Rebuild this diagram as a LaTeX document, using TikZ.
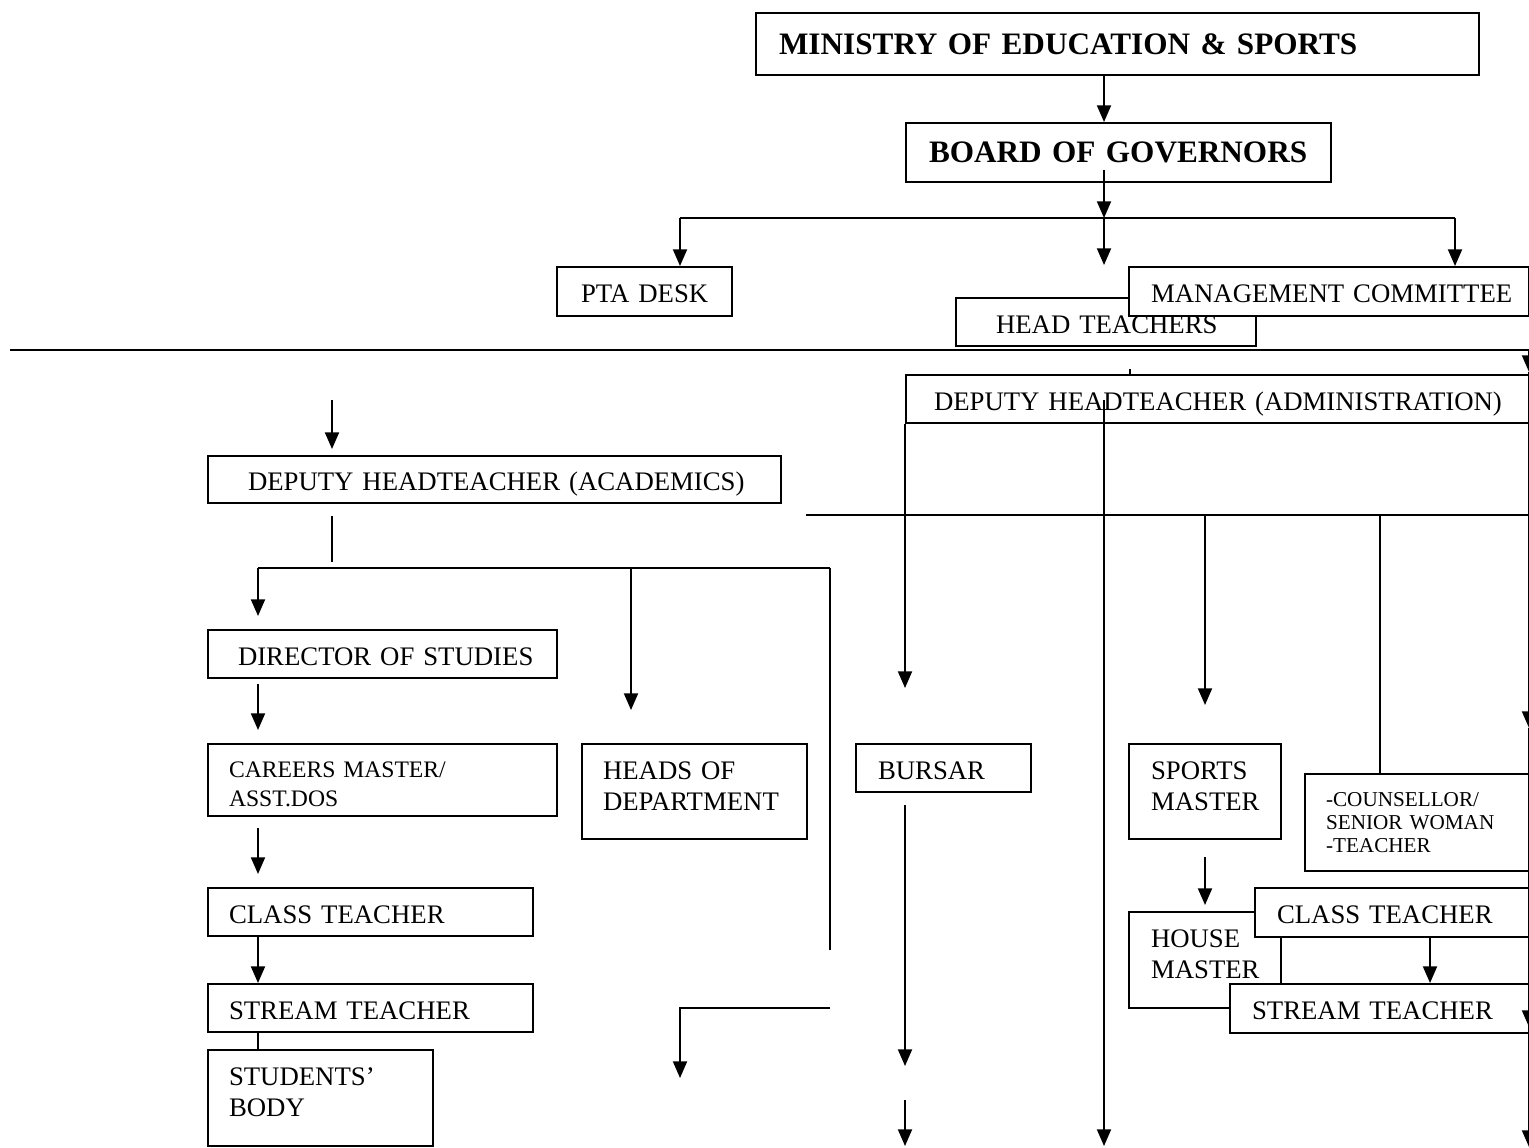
\documentclass[tikz,border=0pt]{standalone}
\usepackage{fontspec}
\setmainfont{Liberation Serif}
\usetikzlibrary{arrows.meta}
\newcommand\fN{\fontsize{12}{13.8}\selectfont}
\newcommand\fB{\fontsize{14}{16}\selectfont\bfseries}
\newcommand\fS{\fontsize{10.6}{13}\selectfont}
\newcommand\fT{\fontsize{9.5}{10.4}\selectfont}
\begin{document}
\begin{tikzpicture}[x=0.4484pt,y=-0.4484pt,
  bx/.style n args={3}{draw, fill=white, line width=0.9pt, anchor=north west,
    minimum width=#1*0.4484pt, minimum height=#2*0.4484pt,
    text width=(#1-2*#3)*0.4484pt, inner xsep=#3*0.4484pt, inner ysep=0pt,
    align=left, font=\fN},
  sl/.style={text height=10.1pt, text depth=0pt},
  dl/.style={text height=8pt, text depth=18.8pt},
  ln/.style={line width=0.85pt},
  arr/.style={line width=0.85pt, -{Triangle[length=7.5pt,width=6.3pt]}}]
\useasboundingbox (0,0) rectangle (1529,1147);
% boxes
\node[bx={723}{62}{23}, font=\fB] (min) at (755,12) {\mbox{MINISTRY OF EDUCATION \& SPORTS}};
\node[bx={425}{59}{23}, font=\fB] (brd) at (905,122) {\mbox{BOARD OF GOVERNORS}};
\node[bx={175}{49}{24}, sl] (pta) at (556,266) {\mbox{PTA DESK}};
\node[bx={300}{48}{40}, sl] (ht) at (955,297) {\mbox{HEAD TEACHERS}};
\node[bx={400}{49}{22}, sl] (mc) at (1128,266) {\mbox{MANAGEMENT COMMITTEE}};
\node[bx={623}{48}{28}, sl] (da) at (905,374) {\mbox{DEPUTY HEADTEACHER (ADMINISTRATION)}};
\node[bx={573}{47}{40}, sl] (dac) at (207,455) {\mbox{DEPUTY HEADTEACHER (ACADEMICS)}};
\node[bx={349}{48}{30}, sl] (dos) at (207,629) {\mbox{DIRECTOR OF STUDIES}};
\node[bx={349}{72}{21}, font=\fS, text height=11pt, text depth=13pt] (cm) at (207,743) {\mbox{CAREERS MASTER/}\\\mbox{ASST.DOS}};
\node[bx={225}{95}{21}, dl] (hod) at (581,743) {\mbox{HEADS OF}\\\mbox{DEPARTMENT}};
\node[bx={325}{48}{21}, sl] (ctl) at (207,887) {\mbox{CLASS TEACHER}};
\node[bx={325}{48}{21}, sl] (stl) at (207,983) {\mbox{STREAM TEACHER}};
\node[bx={225}{96}{21}, dl] (sb) at (207,1049) {\mbox{STUDENTS’}\\\mbox{BODY}};
\node[bx={175}{48}{22}, sl] (bur) at (855,743) {\mbox{BURSAR}};
\node[bx={152}{95}{22}, dl] (sm) at (1128,743) {\mbox{SPORTS}\\\mbox{MASTER}};
\node[bx={224}{97}{21}, font=\fT] (co) at (1304,773) {\mbox{-COUNSELLOR/}\\\mbox{SENIOR WOMAN}\\\mbox{-TEACHER}};
\node[bx={152}{96}{22}, dl] (hm) at (1128,911) {\mbox{HOUSE}\\\mbox{MASTER}};
\node[bx={274}{49}{22}, sl] (ctr) at (1254,887) {\mbox{CLASS TEACHER}};
\node[bx={299}{49}{22}, sl] (str) at (1229,983) {\mbox{STREAM TEACHER}};
% coordinates
\coordinate (b1) at (1104,170);
\coordinate (j1) at (1104,218);
\coordinate (jL) at (680,218);
\coordinate (jR) at (1455,218);
\coordinate (jM) at (1104,265);
\coordinate (h1) at (10,350);
\coordinate (h2) at (1529,350);
\coordinate (tk) at (1130,369);
\coordinate (r1) at (1529,372);
\coordinate (r2) at (1529,728);
\coordinate (r3) at (1529,1027);
\coordinate (r4) at (1529,1147);
\coordinate (a1) at (332,400);
\coordinate (a2) at (332,449);
\coordinate (a3) at (332,516);
\coordinate (a4) at (332,562);
\coordinate (l1) at (258,568);
\coordinate (l2) at (631,568);
\coordinate (l3) at (830,568);
\coordinate (l1e) at (258,616);
\coordinate (l2e) at (631,710);
\coordinate (l3e) at (830,950);
\coordinate (d1) at (258,684);
\coordinate (d2) at (258,730);
\coordinate (d3) at (258,828);
\coordinate (d4) at (258,874);
\coordinate (e1) at (830,1008);
\coordinate (e2) at (680,1008);
\coordinate (e3) at (680,1078);
\coordinate (m1) at (806,515);
\coordinate (m2) at (1529,515);
\coordinate (k1e) at (905,688);
\coordinate (k2) at (1104,400);
\coordinate (k2e) at (1104,1146);
\coordinate (k3) at (1205,515);
\coordinate (k3e) at (1205,705);
\coordinate (k4) at (1380,515);
\coordinate (bu1) at (905,805);
\coordinate (bu2) at (905,1066);
\coordinate (bu3) at (905,1100);
\coordinate (bu4) at (905,1146);
\coordinate (s1) at (1205,857);
\coordinate (s2) at (1205,905);
\coordinate (c1) at (1430,936);
\coordinate (c2) at (1430,983);
% connectors top
\draw[arr] (min.south -| b1) -- (brd.north -| b1);
\draw[arr] (b1) -- (j1);
\draw[ln] (jL) -- (jR);
\draw[arr] (jL) -- (pta.north -| jL);
\draw[arr] (j1) -- (jM);
\draw[arr] (jR) -- (mc.north -| jR);
\draw[line width=1.1pt] (h1) -- (h2);
\draw[line width=0.6pt] (tk) -- (da.north -| tk);
\draw[arr] (h2) -- (r1);
\draw[arr] (r1) -- (r2);
\draw[arr] (r2) -- (r3);
\draw[arr] (r3) -- (r4);
% academics side
\draw[arr] (a1) -- (a2);
\draw[ln] (a3) -- (a4);
\draw[ln] (l1) -- (l3);
\draw[arr] (l1) -- (l1e);
\draw[arr] (l2) -- (l2e);
\draw[ln] (l3) -- (l3e);
\draw[arr] (d1) -- (d2);
\draw[arr] (d3) -- (d4);
\draw[arr] (ctl.south -| l1) -- (stl.north -| l1);
\draw[ln] (stl.south -| l1) -- (sb.north -| l1);
\draw[arr] (e1) -- (e2) -- (e3);
% administration side
\draw[ln] (m1) -- (m2);
\draw[arr] (da.south west) -- (k1e);
\draw[arr] (k2) -- (k2e);
\draw[arr] (k3) -- (k3e);
\draw[ln] (k4) -- (co.north -| k4);
\draw[arr] (bu1) -- (bu2);
\draw[arr] (bu3) -- (bu4);
\draw[arr] (s1) -- (s2);
\draw[arr] (c1) -- (c2);
\end{tikzpicture}
\end{document}
